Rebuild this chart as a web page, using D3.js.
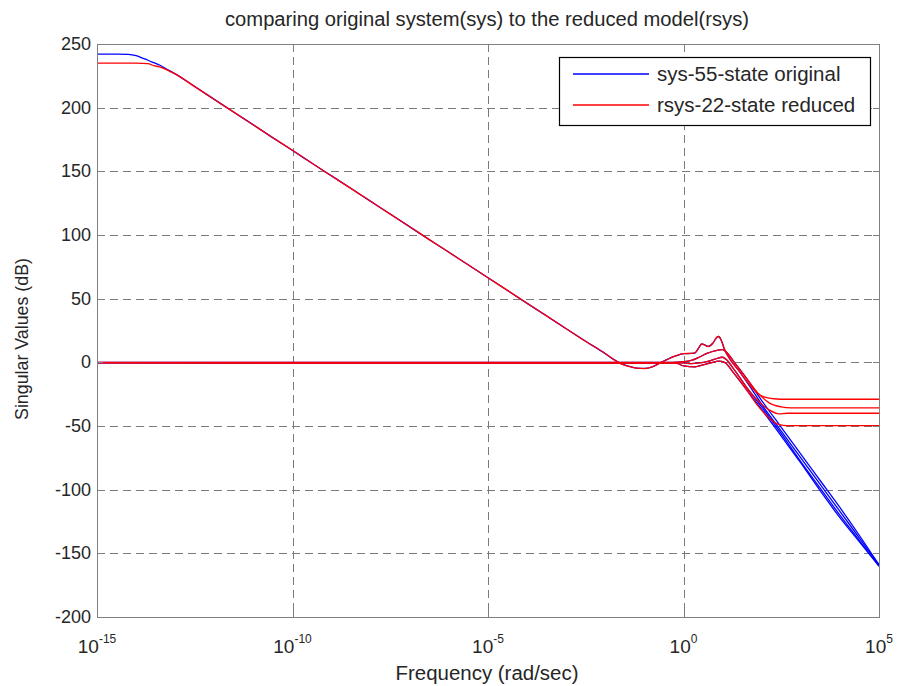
<!DOCTYPE html>
<html>
<head>
<meta charset="utf-8">
<script src="https://cdn.jsdelivr.net/npm/d3@7"></script>
<style>
  body { margin: 0; background: #fff; }
  text { font-family: "Liberation Sans", Arial, sans-serif; fill: #262626; }
</style>
</head>
<body>
<div id="vis"></div>
<script>
// decades on the frequency axis, and the y ticks
const xTickExp = [-15, -10, -5, 0, 5];
const yTicks = [-200, -150, -100, -50, 0, 50, 100, 150, 200, 250];

// singular values, [log10(w), dB]
const sysSv1 = [[-15,242],[-14.5,242],[-14.2,241.8],[-14,240.8],[-13.8,238.5],[-13.6,236],[-13.4,233.5],[-13.2,230],[-13,226.5],[-12.5,216.6],[-12,206.5],[-11.5,196.4],[-11,186.5],[-10.5,176.3],[-10,166.4],[-9.5,156.3],[-9,146.4],[-8.5,136.5],[-8,126.4],[-7.5,116.5],[-7,106.4],[-6.5,96.3],[-6,86.5],[-5.5,76.4],[-5,66.4],[-4.5,56.4],[-4,46.3],[-3.5,36.4],[-3,26.4],[-2.5,16.5],[-2,6.8],[-1.8,2.5],[-1.6,-1],[-1.4,-3],[-1.2,-4.5],[-1,-4.8],[-0.8,-3.5],[-0.6,-0.5],[-0.4,2.5],[-0.2,5],[0,6.8],[0.2,7],[0.3,7.5],[0.4,12],[0.47,14.5],[0.55,13.5],[0.63,12.5],[0.75,15],[0.85,19.5],[0.9,20.3],[0.97,17],[1.05,10],[1.2,2],[1.4,-6],[1.7,-19],[2,-33],[2.5,-54],[3,-75],[3.5,-96],[4,-117],[4.5,-138],[5,-159]];
const sysSv2 = [[-15,0],[-0.3,0],[0,0.5],[0.2,1.5],[0.4,4],[0.6,7],[0.8,9],[1,10],[1.1,8],[1.3,0],[1.6,-12],[2,-30],[2.5,-51],[3,-72],[3.5,-93],[4,-114],[4.5,-136],[5,-159]];
const sysSv3 = [[-15,-0.3],[0,-0.5],[0.2,-1],[0.4,-0.5],[0.6,0.5],[0.8,2.5],[1,4],[1.1,2],[1.3,-6],[1.6,-19],[2,-35],[2.5,-56],[3,-78],[3.5,-99],[4,-120],[4.5,-140],[5,-160]];
const sysSv4 = [[-15,-0.5],[-0.2,-0.6],[0,-2.8],[0.3,-3.5],[0.5,-2],[0.7,-0.5],[0.9,1],[1.05,0],[1.3,-9],[1.6,-21],[2,-37],[2.5,-58],[3,-79],[3.5,-101],[4,-122],[4.5,-141],[5,-160]];

const rsysSv1 = [[-15,235],[-14,235],[-13.7,234.6],[-13.55,233],[-13.4,232],[-13.2,229.5],[-13,226.5],[-12.5,216.5],[-12,206.4],[-11.5,196.5],[-11,186.4],[-10.5,176.4],[-10,166.5],[-9.5,156.4],[-9,146.3],[-8.5,136.4],[-8,126.5],[-7.5,116.4],[-7,106.5],[-6.5,96.4],[-6,86.4],[-5.5,76.5],[-5,66.4],[-4.5,56.5],[-4,46.4],[-3.5,36.5],[-3,26.4],[-2.5,16.4],[-2,6.9],[-1.8,2.6],[-1.6,-1.2],[-1.4,-3.2],[-1.2,-4.6],[-1,-4.9],[-0.8,-3.6],[-0.6,-0.6],[-0.4,2.4],[-0.2,5],[0,6.9],[0.2,7],[0.3,7.6],[0.4,12],[0.47,14.5],[0.55,13.5],[0.63,12.4],[0.75,15],[0.85,19.6],[0.9,20.3],[0.97,17],[1.05,10],[1.2,2],[1.4,-6],[1.7,-18],[1.9,-24.5],[2.1,-27.5],[2.4,-28.8],[2.6,-29],[5,-29]];
const rsysSv2 = [[-15,0],[-0.3,0],[0,0.5],[0.2,1.5],[0.4,4],[0.6,7],[0.8,9],[1,10],[1.1,8],[1.3,0],[1.6,-12],[1.9,-24],[2.2,-32],[2.5,-35],[2.75,-35.8],[5,-35.8]];
const rsysSv3 = [[-15,-0.3],[0,-0.5],[0.2,-1],[0.4,-0.5],[0.6,0.5],[0.8,2.5],[1,4],[1.1,2],[1.3,-6],[1.6,-19],[1.9,-30],[2.2,-37.5],[2.45,-40.5],[2.65,-40],[5,-40]];
const rsysSv4 = [[-15,-0.5],[-0.2,-0.6],[0,-2.8],[0.3,-3.5],[0.5,-2],[0.7,-0.5],[0.9,1],[1.05,0],[1.3,-9],[1.6,-21],[1.9,-34],[2.2,-44],[2.45,-49],[2.65,-49.7],[5,-49.7]];

const sysLines = [sysSv1, sysSv2, sysSv3, sysSv4];
const rsysLines = [rsysSv1, rsysSv2, rsysSv3, rsysSv4];
const legendNames = ["sys-55-state original", "rsys-22-state reduced"];
const blue = "#0000ff", red = "#ff0000";

const W = 898, H = 686;
const pL = 97, pR = 879, pT = 44, pB = 617;

const svg = d3.select("#vis").append("svg")
  .attr("width", W)
  .attr("height", H);

const x = d3.scaleLog().domain([1e-15, 1e5]).range([pL, pR]);
const y = d3.scaleLinear().domain([-200, 250]).range([pB, pT]);

// grid
const grid = svg.append("g")
  .attr("stroke", "#7a7a7a")
  .attr("stroke-width", 1)
  .attr("stroke-dasharray", "8,5");
grid.selectAll(".gx")
  .data(xTickExp.slice(1, -1))
  .join("line")
  .attr("x1", d => Math.round(x(Math.pow(10, d))) + 0.5)
  .attr("x2", d => Math.round(x(Math.pow(10, d))) + 0.5)
  .attr("y1", pT).attr("y2", pB);
grid.selectAll(".gy")
  .data(yTicks.slice(1, -1))
  .join("line")
  .attr("y1", d => Math.round(y(d)) + 0.5)
  .attr("y2", d => Math.round(y(d)) + 0.5)
  .attr("x1", pL).attr("x2", pR);

// curves
const line = d3.line()
  .x(d => x(Math.pow(10, d[0])))
  .y(d => y(d[1]))
  .curve(d3.curveMonotoneX);

const plot = svg.append("g").attr("fill", "none").attr("stroke-width", 1.3);
plot.selectAll(".sys")
  .data(sysLines)
  .join("path")
  .attr("stroke", blue)
  .attr("d", line);
plot.selectAll(".rsys")
  .data(rsysLines)
  .join("path")
  .attr("stroke", red)
  .attr("d", line);

// frame and ticks
svg.append("rect")
  .attr("x", pL + 0.5).attr("y", pT + 0.5)
  .attr("width", pR - pL).attr("height", pB - pT)
  .attr("fill", "none")
  .attr("stroke", "#808080");

const ticks = svg.append("g").attr("stroke", "#808080");
xTickExp.forEach(e => {
  const px = Math.round(x(Math.pow(10, e))) + 0.5;
  ticks.append("line").attr("x1", px).attr("x2", px).attr("y1", pB).attr("y2", pB - 6);
  ticks.append("line").attr("x1", px).attr("x2", px).attr("y1", pT).attr("y2", pT + 6);
});
yTicks.forEach(v => {
  const py = Math.round(y(v)) + 0.5;
  ticks.append("line").attr("x1", pL).attr("x2", pL + 6).attr("y1", py).attr("y2", py);
  ticks.append("line").attr("x1", pR).attr("x2", pR - 6).attr("y1", py).attr("y2", py);
});

// tick labels
svg.append("g")
  .selectAll("text")
  .data(yTicks)
  .join("text")
  .attr("x", pL - 6)
  .attr("y", d => y(d) + 6)
  .attr("text-anchor", "end")
  .attr("font-size", 18)
  .text(d => d);

const xl = svg.append("g")
  .selectAll("text")
  .data(xTickExp)
  .join("text")
  .attr("x", d => x(Math.pow(10, d)))
  .attr("y", 653)
  .attr("text-anchor", "middle")
  .attr("font-size", 19);
xl.append("tspan").text("10");
xl.append("tspan")
  .attr("font-size", 12)
  .attr("dy", -10)
  .text(d => d);

// titles
svg.append("text")
  .attr("x", 487).attr("y", 26)
  .attr("text-anchor", "middle")
  .attr("font-size", 20)
  .attr("textLength", 524)
  .attr("lengthAdjust", "spacingAndGlyphs")
  .text("comparing original system(sys) to the reduced model(rsys)");

svg.append("text")
  .attr("transform", "translate(28,339) rotate(-90)")
  .attr("text-anchor", "middle")
  .attr("font-size", 18)
  .attr("textLength", 162)
  .attr("lengthAdjust", "spacingAndGlyphs")
  .text("Singular Values (dB)");

svg.append("text")
  .attr("x", 487).attr("y", 680)
  .attr("text-anchor", "middle")
  .attr("font-size", 20)
  .attr("textLength", 183)
  .attr("lengthAdjust", "spacingAndGlyphs")
  .text("Frequency (rad/sec)");

// legend
const lg = svg.append("g");
lg.append("rect")
  .attr("x", 559.5).attr("y", 57.5)
  .attr("width", 311).attr("height", 68)
  .attr("fill", "#fff")
  .attr("stroke", "#000")
  .attr("stroke-width", 1.2);
const items = lg.selectAll(".it")
  .data(legendNames)
  .join("g")
  .attr("transform", (d, i) => `translate(0,${74 + i * 31})`);
items.append("line")
  .attr("x1", 573).attr("x2", 649)
  .attr("stroke", (d, i) => i ? red : blue)
  .attr("stroke-width", 1.3);
items.append("text")
  .attr("x", 657).attr("y", 7)
  .attr("font-size", 20.5)
  .text(d => d);
</script>
</body>
</html>
